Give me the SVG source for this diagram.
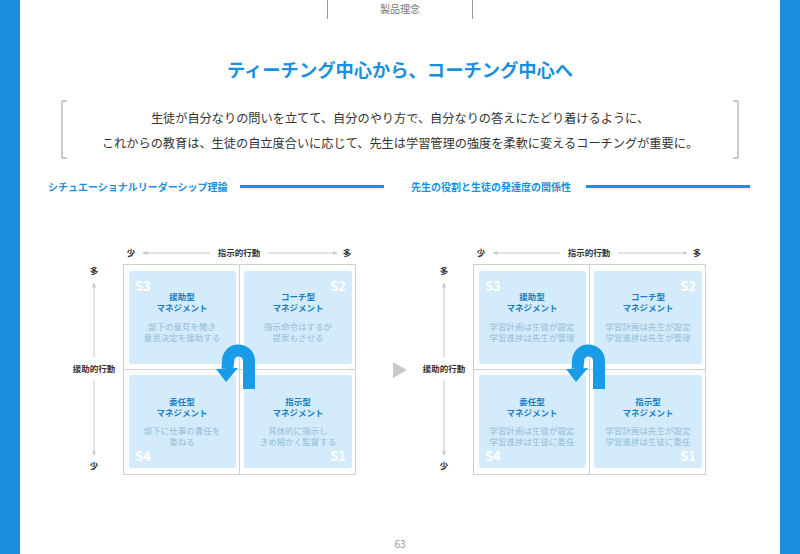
<svg xmlns="http://www.w3.org/2000/svg" width="800" height="554" viewBox="0 0 800 554">
<defs>
<style>
text{font-family:"Noto Sans CJK JP","Noto Sans",sans-serif}
.t{font-size:8.5px;font-weight:bold;fill:#1a7fc4;text-anchor:middle}
.d{font-size:8.5px;fill:#94bcd8;text-anchor:middle}
.s{font-size:13px;font-weight:bold;fill:#fff}
.ax{font-size:8.5px;font-weight:bold;fill:#333;text-anchor:middle}
.box{fill:#d3ebfb}
.al{stroke:#c8c8c8;stroke-width:1;fill:none}
</style>
<marker id="ah" viewBox="0 0 10 10" refX="9" refY="5" markerWidth="5" markerHeight="5" orient="auto"><path d="M0,1 L10,5 L0,9z" fill="#c8c8c8"/></marker>
<g id="quad">
<rect x="123.5" y="264.5" width="232" height="210" fill="#fff" stroke="#d0d0d0"/>
<line x1="239.5" y1="264" x2="239.5" y2="475" stroke="#d0d0d0"/>
<line x1="123" y1="369.5" x2="356" y2="369.5" stroke="#d0d0d0"/>
<rect class="box" x="129" y="271" width="107" height="93" rx="3"/>
<rect class="box" x="244" y="271" width="108" height="93" rx="3"/>
<rect class="box" x="129" y="375" width="107" height="93" rx="3"/>
<rect class="box" x="244" y="375" width="108" height="93" rx="3"/>
<text class="s" x="135" y="291">S3</text>
<text class="s" x="346" y="291" text-anchor="end">S2</text>
<text class="s" x="135" y="461">S4</text>
<text class="s" x="346" y="461" text-anchor="end">S1</text>
<text class="t" x="182" y="300">援助型</text><text class="t" x="182" y="311">マネジメント</text>
<text class="t" x="298" y="300">コーチ型</text><text class="t" x="298" y="311">マネジメント</text>
<text class="t" x="182" y="405">委任型</text><text class="t" x="182" y="416">マネジメント</text>
<text class="t" x="298" y="405">指示型</text><text class="t" x="298" y="416">マネジメント</text>
<path d="M249,389 V360 A10.5,10.5 0 0 0 228,362 L227.5,369" fill="none" stroke="#1a9be8" stroke-width="12"/>
<polygon points="216,369 238,368 226,382" fill="#1a9be8"/>
<text class="ax" x="131" y="256">少</text>
<text class="ax" x="239" y="256">指示的行動</text>
<text class="ax" x="347" y="256">多</text>
<line class="al" x1="210" y1="253" x2="143" y2="253" marker-end="url(#ah)"/>
<line class="al" x1="268" y1="253" x2="337" y2="253" marker-end="url(#ah)"/>
<text class="ax" x="94" y="274">多</text>
<text class="ax" x="94" y="372">援助的行動</text>
<text class="ax" x="94" y="469">少</text>
<line class="al" x1="94" y1="357" x2="94" y2="283" marker-end="url(#ah)"/>
<line class="al" x1="94" y1="380" x2="94" y2="455" marker-end="url(#ah)"/>
</g>
</defs>
<rect width="800" height="554" fill="#fff"/>
<rect x="0" y="0" width="20" height="554" fill="#1a8fe0"/>
<rect x="780" y="0" width="20" height="554" fill="#1a8fe0"/>
<g id="header">
<line x1="327.5" y1="0" x2="327.5" y2="19" stroke="#999"/>
<line x1="472.5" y1="0" x2="472.5" y2="19" stroke="#999"/>
<text x="400" y="13" font-size="10" fill="#777" text-anchor="middle">製品理念</text>
</g>
<text x="400" y="77" font-size="18.3" font-weight="bold" fill="#1a8fe0" text-anchor="middle">ティーチング中心から、コーチング中心へ</text>
<path d="M67,101 H62 V158 H67 M733,101 H738 V158 H733" fill="none" stroke="#999"/>
<text x="400" y="123" font-size="12.2" fill="#333" text-anchor="middle">生徒が自分なりの問いを立てて、自分のやり方で、自分なりの答えにたどり着けるように、</text>
<text x="400" y="148" font-size="12.2" fill="#333" text-anchor="middle">これからの教育は、生徒の自立度合いに応じて、先生は学習管理の強度を柔軟に変えるコーチングが重要に。</text>
<text x="48" y="191" font-size="10" font-weight="bold" fill="#1a8fe0">シチュエーショナルリーダーシップ理論</text>
<rect x="240" y="185" width="144" height="3" fill="#1a8fe0"/>
<text x="411" y="191" font-size="10" font-weight="bold" fill="#1a8fe0">先生の役割と生徒の発達度の関係性</text>
<rect x="586" y="185" width="164" height="3" fill="#1a8fe0"/>
<g id="left">
<use href="#quad"/>
<text class="d" x="182" y="330">部下の意見を聞き</text><text class="d" x="182" y="341">意思決定を援助する</text>
<text class="d" x="298" y="330">指示命令はするが</text><text class="d" x="298" y="341">提案もさせる</text>
<text class="d" x="182" y="434">部下に仕事の責任を</text><text class="d" x="182" y="445">委ねる</text>
<text class="d" x="298" y="434">具体的に指示し</text><text class="d" x="298" y="445">きめ細かく監督する</text>
</g>
<polygon id="tri" points="393,362 407,370 393,378" fill="#c8c8c8"/>
<g id="right" transform="translate(350,0)">
<use href="#quad"/>
<text class="d" x="182" y="330">学習計画は生徒が設定</text><text class="d" x="182" y="341">学習進捗は先生が管理</text>
<text class="d" x="298" y="330">学習計画は先生が設定</text><text class="d" x="298" y="341">学習進捗は先生が管理</text>
<text class="d" x="182" y="434">学習計画は生徒が設定</text><text class="d" x="182" y="445">学習進捗は生徒に委任</text>
<text class="d" x="298" y="434">学習計画は先生が設定</text><text class="d" x="298" y="445">学習進捗は生徒に委任</text>
</g>
<text x="400" y="548" font-size="10" fill="#999" text-anchor="middle">63</text>
</svg>
